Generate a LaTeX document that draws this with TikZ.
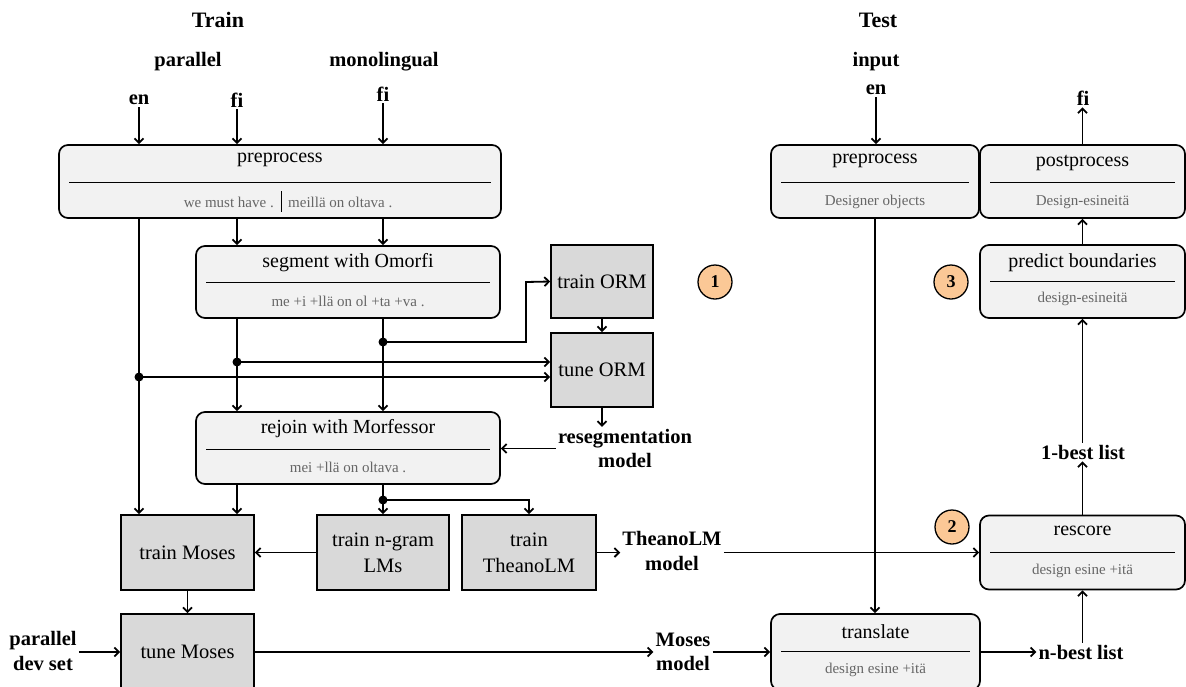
\documentclass[tikz,border=0pt]{standalone}
\usepackage{fontspec}
\setmainfont{Liberation Serif}
\usetikzlibrary{arrows.meta,calc}
\definecolor{boxfill}{HTML}{F2F2F2}
\definecolor{grayfill}{HTML}{D9D9D9}
\definecolor{subgray}{HTML}{666666}
\definecolor{circfill}{HTML}{FBC896}
\tikzset{
  proc/.style={draw, rounded corners=9pt, fill=boxfill, line width=1.7pt, inner sep=0pt},
  gbox/.style={draw, fill=grayfill, line width=1.7pt, inner sep=0pt, align=center,
    font=\fontsize{20.5}{26}\selectfont},
  ttl/.style={font=\fontsize{20}{24}\selectfont, inner sep=0pt},
  subt/.style={font=\fontsize{15}{18}\selectfont, text=subgray, inner sep=0pt},
  divl/.style={line width=1pt},
  lbl/.style={font=\bfseries\fontsize{20.5}{24.5}\selectfont, align=center, inner sep=2pt},
  headl/.style={font=\bfseries\fontsize{22}{26}\selectfont, inner sep=0pt},
  conn/.style={line width=1.8pt, -{Straight Barb[length=4.5pt,width=9pt]}},
  jdot/.style={fill=black},
  numc/.style={circle, draw, line width=1.3pt, fill=circfill, minimum size=34pt, inner sep=0pt,
    font=\bfseries\fontsize{18}{20}\selectfont},
}
\begin{document}
\begin{tikzpicture}[x=1pt,y=-1pt]
\useasboundingbox (0,0) rectangle (1186,686);
\clip (0,0) rectangle (1186,686);

% headings and input labels
\node[headl] (train) at (218,20) {Train};
\node[headl] (test) at (878,20) {Test};
\node[lbl] (par) at (188,62) {parallel};
\node[lbl] (mono) at (384,62) {monolingual};
\node[lbl] (en) at (139,100) {en};
\node[lbl] (fia) at (237,100) {fi};
\node[lbl] (fib) at (383,94) {fi};
\node[lbl] (tin) at (876,62) {input};
\node[lbl] (ten) at (876,90) {en};
\node[lbl] (fic) at (1083,98) {fi};

% Train: rounded process boxes
\node[proc, minimum width=442pt, minimum height=73pt] (pre) at (280,181.5) {};
\node[ttl] (pret) at (280,160) {preprocess};
\draw[divl] (69,182) -- (491,182);
\node[subt, anchor=east] (pres1) at (274,202) {we must have .};
\node[subt, anchor=west] (pres2) at (288,202) {meillä on oltava .};
\draw[divl] (281,191) -- (281,212);

\node[proc, minimum width=304pt, minimum height=72pt] (seg) at (348,282) {};
\node[ttl] (segt) at (348,263) {segment with Omorfi};
\draw[divl] (206,282.5) -- (490,282.5);
\node[subt] (segs) at (348,301) {me +i +llä on ol +ta +va .};

\node[proc, minimum width=304pt, minimum height=72pt] (rej) at (348,448) {};
\node[ttl] (rejt) at (348,429) {rejoin with Morfessor};
\draw[divl] (206,449) -- (490,449);
\node[subt] (rejs) at (348,467) {mei +llä on oltava .};

% Train: gray boxes
\node[gbox, minimum width=102pt, minimum height=73pt] (trorm) at (602,281.5) {train ORM};
\node[gbox, minimum width=102pt, minimum height=74pt] (tuorm) at (602,370) {tune ORM};
\node[gbox, minimum width=133pt, minimum height=75pt] (tmo) at (187.5,552.5) {train Moses};
\node[gbox, minimum width=132pt, minimum height=75pt] (ngram) at (383,552.5) {train n-gram\\LMs};
\node[gbox, minimum width=134pt, minimum height=75pt] (theano) at (529,552.5) {train\\TheanoLM};
\node[gbox, minimum width=133pt, minimum height=76pt] (tunemo) at (187.5,652) {tune Moses};

% Train: labels
\node[lbl] (reseg) at (625,448.5) {resegmentation\\model};
\node[lbl] (thlbl) at (672,551) {TheanoLM\\model};
\node[lbl] (moslbl) at (683,652) {Moses\\model};
\node[lbl] (devset) at (43,651) {parallel\\dev set};

% Test boxes
\node[proc, minimum width=208pt, minimum height=73pt] (tpre) at (875,181.5) {};
\node[ttl] (tpret) at (875,161) {preprocess};
\draw[divl] (781,182) -- (969,182);
\node[subt] (tpres) at (875,202) {Designer objects};

\node[proc, minimum width=205pt, minimum height=73pt] (post) at (1082.5,181.5) {};
\node[ttl] (postt) at (1082.5,163) {postprocess};
\draw[divl] (990,182) -- (1175,182);
\node[subt] (posts) at (1082.5,202) {Design-esineitä};

\node[proc, minimum width=205pt, minimum height=73pt] (pred) at (1082.5,281.5) {};
\node[ttl] (predt) at (1082.5,263) {predict boundaries};
\draw[divl] (990,281) -- (1175,281);
\node[subt] (preds) at (1082.5,299) {design-esineitä};

\node[proc, minimum width=205pt, minimum height=74pt] (resc) at (1082.5,552.5) {};
\node[ttl] (resct) at (1082.5,531) {rescore};
\draw[divl] (990,552) -- (1175,552);
\node[subt] (rescs) at (1082.5,571) {design esine +itä};

\node[proc, minimum width=209pt, minimum height=76pt] (trans) at (875.5,652) {};
\node[ttl] (transt) at (875.5,632) {translate};
\draw[divl] (781,651) -- (970,651);
\node[subt] (transs) at (875.5,670) {design esine +itä};

\node[lbl] (nbest) at (1081,652) {n-best list};
\node[lbl] (onebest) at (1083,452) {1-best list};

% numbered circles
\node[numc] (c1) at (715,282) {1};
\node[numc] (c2) at (952,527) {2};
\node[numc] (c3) at (951,282) {3};

% junctions
\coordinate (dA) at (139,377);
\coordinate (dB) at (237,362);
\coordinate (dC) at (383,342);
\coordinate (dD) at (383,500);
\coordinate (bC) at (526,282);

% Train connectors
\draw[conn] (en) -- (en |- pre.north);
\draw[conn] (fia) -- (fia |- pre.north);
\draw[conn] (fib) -- (fib |- pre.north);
\draw[conn] (pre.south -| en) -- (tmo.north -| en);
\draw[conn] (pre.south -| fia) -- (seg.north -| fia);
\draw[conn] (pre.south -| fib) -- (seg.north -| fib);
\draw[conn] (seg.south -| fia) -- (rej.north -| fia);
\draw[conn] (seg.south -| fib) -- (rej.north -| fib);
\draw[conn] (dA) -- (dA -| tuorm.west);
\draw[conn] (dB) -- (dB -| tuorm.west);
\draw[conn] (dC) -| (bC) -- (trorm.west);
\draw[conn] (trorm) -- (tuorm);
\draw[conn] (tuorm.south) -- (tuorm.south |- reseg.north);
\draw[conn] (reseg.west) -- (reseg.west -| rej.east);
\draw[conn] (rej.south -| fia) -- (tmo.north -| fia);
\draw[conn] (rej.south -| fib) -- (ngram.north -| fib);
\draw[conn] (dD) -| (theano.north);
\draw[conn] (ngram) -- (tmo);
\draw[conn] (theano.east) -- (theano.east -| thlbl.west);
\draw[conn] (thlbl.east |- resc.west) -- (resc.west);
\draw[conn] (tmo) -- (tunemo);
\draw[conn] (devset.east |- tunemo.west) -- (tunemo.west);
\draw[conn] (tunemo.east |- moslbl.west) -- (moslbl.west);
\draw[conn] (moslbl.east) -- (moslbl.east -| trans.west);

% Test connectors
\draw[conn] (ten) -- (ten |- tpre.north);
\draw[conn] (tpre.south) -- (tpre.south |- trans.north);
\draw[conn] (trans.east |- nbest.west) -- (nbest.west);
\draw[conn] (resc.south |- nbest.north) -- (resc.south);
\draw[conn] (resc.north) -- (resc.north |- onebest.south);
\draw[conn] (pred.south |- onebest.north) -- (pred.south);
\draw[conn] (pred) -- (post);
\draw[conn] (post.north) -- (post.north |- fic.south);

% junction dots
\fill[jdot] (dA) circle (4.5pt);
\fill[jdot] (dB) circle (4.5pt);
\fill[jdot] (dC) circle (4.5pt);
\fill[jdot] (dD) circle (4.5pt);
\end{tikzpicture}
\end{document}
